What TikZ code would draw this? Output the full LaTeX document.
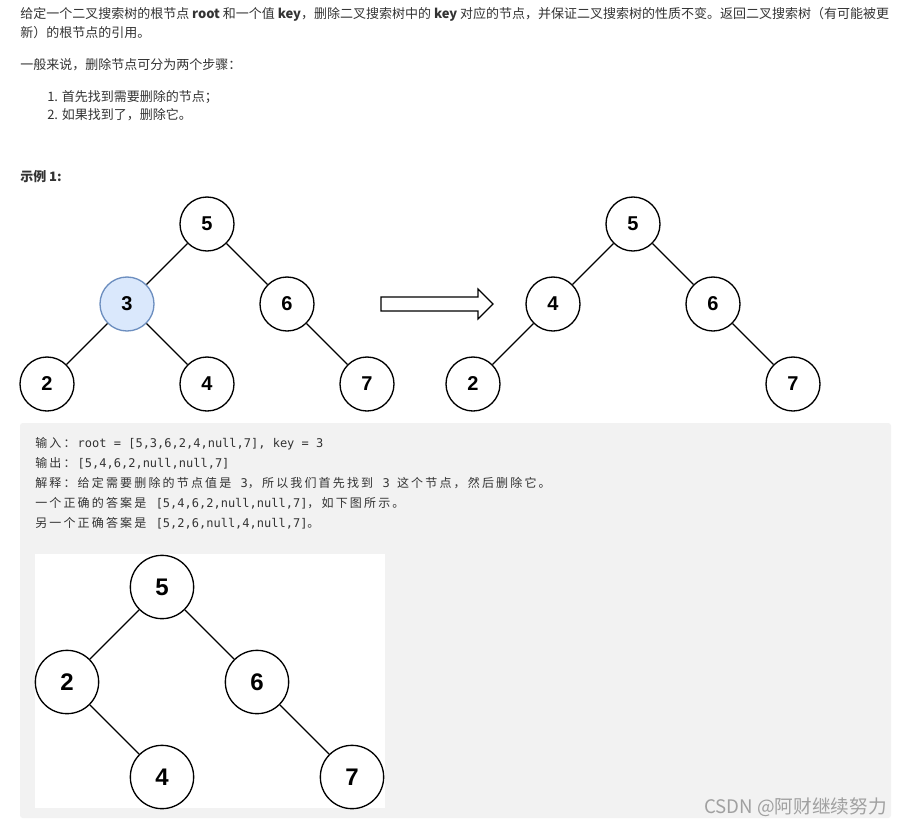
\documentclass[tikz,border=0pt]{standalone}
\usepackage{fontspec}
\setmainfont{Noto Sans CJK SC}
\setmonofont{DejaVu Sans Mono}
\newfontfamily\cjkmono[LetterSpace=18.0]{Noto Sans CJK SC}
\newfontfamily\digitfont{Liberation Sans}
\usepackage[HTML]{xcolor}
\usetikzlibrary{positioning}
\definecolor{boxgray}{HTML}{F2F2F2}
\definecolor{keyfill}{HTML}{DAE8FC}
\definecolor{keyline}{HTML}{6C8EBF}
\definecolor{textdark}{HTML}{333333}
\definecolor{marktext}{HTML}{A0A0A0}

\begin{document}
\begin{tikzpicture}[
    x=0.75pt, y=-0.75pt, % one unit is one pixel of the page, y runs down
    on grid,
    node distance=60pt and 60pt, % centre to centre, vertical and horizontal
    treenode/.style={circle, draw, line width=1pt, minimum size=40.5pt, inner sep=0pt,
        font=\digitfont\bfseries\fontsize{15}{16}\selectfont},
    bignode/.style={treenode, minimum size=47.5pt,
        font=\digitfont\bfseries\fontsize{18}{19}\selectfont},
    treeedge/.style={line width=1pt},
    textline/.style={anchor=base west, inner sep=0pt, text=textdark,
        font=\fontsize{9.75}{12}\selectfont},
    codeline/.style={anchor=base west, inner sep=0pt, text=textdark,
        font=\fontsize{9}{11}\selectfont}
]
    \useasboundingbox (0,0) rectangle (900,825);

    % 1. The problem statement
    \node[textline] (intro1) at (20,18) {给定一个二叉搜索树的根节点 \textbf{root} 和一个值 \textbf{key}，删除二叉搜索树中的 \textbf{key} 对应的节点，并保证二叉搜索树的性质不变。返回二叉搜索树（有可能被更};
    \node[textline] (intro2) at (20,37) {新）的根节点的引用。};
    \node[textline] (steps) at (20,69) {一般来说，删除节点可分为两个步骤：};
    \node[textline] (step1) at (47,101) {1. 首先找到需要删除的节点；};
    \node[textline] (step2) at (47,119) {2. 如果找到了，删除它。};
    \node[textline] (example) at (20,181) {\textbf{示例 1:}};

    % 2. The tree before deleting key 3
    \node[treenode] (a5) at (207,224) {5};
    \node[treenode, fill=keyfill, draw=keyline] (a3) [below left=of a5] {3};
    \node[treenode] (a6) [below right=of a5] {6};
    \node[treenode] (a2) [below left=of a3] {2};
    \node[treenode] (a4) [below right=of a3] {4};
    \node[treenode] (a7) [below right=of a6] {7};

    \draw[treeedge] (a5) -- (a3);
    \draw[treeedge] (a5) -- (a6);
    \draw[treeedge] (a3) -- (a2);
    \draw[treeedge] (a3) -- (a4);
    \draw[treeedge] (a6) -- (a7);

    % hollow block arrow between the two trees
    \draw[line width=0.9pt, fill=white] (381,297) -- (478,297) -- (478,289) -- (493,304)
        -- (478,319) -- (478,311) -- (381,311) -- cycle;

    % 3. The tree after deleting it
    \node[treenode] (b5) at (633,224) {5};
    \node[treenode] (b4) [below left=of b5] {4};
    \node[treenode] (b6) [below right=of b5] {6};
    \node[treenode] (b2) [below left=of b4] {2};
    \node[treenode] (b7) [below right=of b6] {7};

    \draw[treeedge] (b5) -- (b4);
    \draw[treeedge] (b5) -- (b6);
    \draw[treeedge] (b4) -- (b2);
    \draw[treeedge] (b6) -- (b7);

    % 4. The grey example box
    \fill[boxgray, rounded corners=2pt] (20,423) rectangle (891,818);
    \node[codeline] (input) at (35,447) {{\cjkmono 输入：}\texttt{root = [5,3,6,2,4,null,7], key = 3}};
    \node[codeline] (output) at (35,467) {{\cjkmono 输出：}\texttt{[5,4,6,2,null,null,7]}};
    \node[codeline] (explain) at (35,487) {{\cjkmono 解释：给定需要删除的节点值是}\texttt{ 3}{\cjkmono ，所以我们首先找到}\texttt{ 3 }{\cjkmono 这个节点，然后删除它。}};
    \node[codeline] (answer1) at (35,507) {{\cjkmono 一个正确的答案是}\texttt{ [5,4,6,2,null,null,7]}{\cjkmono ，如下图所示。}};
    \node[codeline] (answer2) at (35,527) {{\cjkmono 另一个正确答案是}\texttt{ [5,2,6,null,4,null,7]}{\cjkmono 。}};

    % the other correct tree, on its white picture
    \fill[white] (35,554) rectangle (385,808);
    \node[bignode] (c5) at (162,587) {5};
    \node[bignode] (c2) [below left=71.25pt and 71.25pt of c5] {2};
    \node[bignode] (c6) [below right=71.25pt and 71.25pt of c5] {6};
    \node[bignode] (c4) [below right=71.25pt and 71.25pt of c2] {4};
    \node[bignode] (c7) [below right=71.25pt and 71.25pt of c6] {7};

    \draw[treeedge] (c5) -- (c2);
    \draw[treeedge] (c5) -- (c6);
    \draw[treeedge] (c2) -- (c4);
    \draw[treeedge] (c6) -- (c7);

    % watermark
    \node[anchor=base east, inner sep=0pt, text=marktext, font=\fontsize{14}{16}\selectfont]
        (mark) at (887,813) {CSDN @阿财继续努力};
\end{tikzpicture}
\end{document}
